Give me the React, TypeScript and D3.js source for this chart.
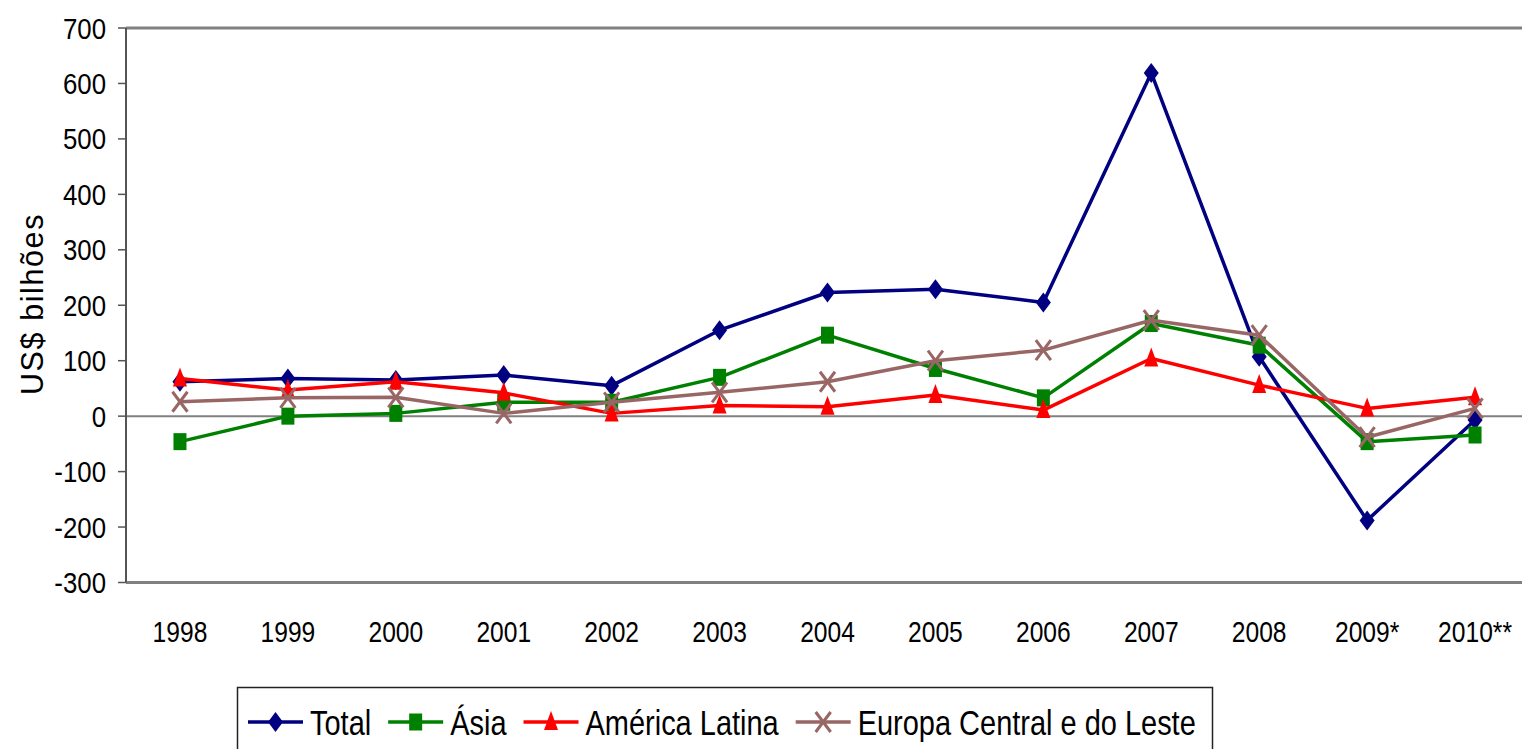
import React, { useEffect, useRef } from "react";
import * as d3 from "d3";

const years = ["1998", "1999", "2000", "2001", "2002", "2003", "2004", "2005", "2006", "2007", "2008", "2009*", "2010**"];
const total = [62, 68, 65, 74, 55, 155, 223, 229, 205, 619, 107, -188, -7];
const asia = [-46, 0, 5, 25, 25, 70, 146, 86, 33, 167, 128, -46, -34];
const americaLatina = [68, 47, 62, 42, 5, 19, 17, 38, 11, 104, 56, 14, 34];
const europa = [26, 33, 34, 5, 25, 43, 62, 100, 119, 173, 146, -38, 14];
const yTicks = [700, 600, 500, 400, 300, 200, 100, 0, -100, -200, -300];

const series = [
  { name: "Total", values: total, color: "#000080", marker: "diamond" },
  { name: "Ásia", values: asia, color: "#008000", marker: "square" },
  { name: "América Latina", values: americaLatina, color: "#FF0000", marker: "triangle" },
  { name: "Europa Central e do Leste", values: europa, color: "#996666", marker: "cross" },
];

const W = 1522, H = 749;
const FONT = "'Liberation Sans', Arial, sans-serif";

// markers in the source are a bit taller than wide
function drawMarker(g: any, kind: string, color: string, x: number, y: number) {
  if (kind === "diamond") {
    g.append("path").attr("d", `M${x},${y - 10}L${x + 7.5},${y}L${x},${y + 10}L${x - 7.5},${y}Z`).attr("fill", color);
  } else if (kind === "square") {
    g.append("rect").attr("x", x - 6.5).attr("y", y - 8.5).attr("width", 13).attr("height", 17).attr("fill", color);
  } else if (kind === "triangle") {
    g.append("path").attr("d", `M${x},${y - 11}L${x + 7},${y + 8}L${x - 7},${y + 8}Z`).attr("fill", color);
  } else {
    g.append("path").attr("d", `M${x - 7.5},${y - 10}L${x + 7.5},${y + 10}M${x - 7.5},${y + 10}L${x + 7.5},${y - 10}`)
      .attr("stroke", color).attr("stroke-width", 3).attr("fill", "none");
  }
}

const App = () => {
  const ref = useRef<SVGSVGElement>(null);

  useEffect(() => {
    const svg = d3.select(ref.current);
    svg.selectAll("*").remove();

    const left = 126, right = 1529, top = 28, bottom = 582.5;
    const x = d3.scalePoint().domain(years).range([left, right]).padding(0.5);
    const y = d3.scaleLinear().domain([-300, 700]).range([bottom, top]);

    // frame
    svg.append("line").attr("x1", left).attr("x2", W).attr("y1", top).attr("y2", top)
      .attr("stroke", "#808080").attr("stroke-width", 3);
    svg.append("line").attr("x1", left).attr("x2", W).attr("y1", bottom).attr("y2", bottom)
      .attr("stroke", "#808080").attr("stroke-width", 3);
    svg.append("line").attr("x1", left).attr("x2", W).attr("y1", y(0)).attr("y2", y(0))
      .attr("stroke", "#808080").attr("stroke-width", 2);
    svg.append("line").attr("x1", left).attr("x2", left).attr("y1", top).attr("y2", bottom)
      .attr("stroke", "#555").attr("stroke-width", 2);

    // y ticks
    const yt = svg.append("g");
    yTicks.forEach(t => {
      yt.append("line").attr("x1", 118).attr("x2", left).attr("y1", y(t)).attr("y2", y(t))
        .attr("stroke", "#555").attr("stroke-width", 1.5);
      yt.append("text").attr("transform", `translate(106,${y(t) + 10.5}) scale(0.89,1)`)
        .attr("text-anchor", "end").attr("font-family", FONT).attr("font-size", 29).text(t);
    });

    // x labels
    years.forEach(c => {
      svg.append("text").attr("transform", `translate(${x(c)},${642}) scale(0.82,1)`)
        .attr("text-anchor", "middle").attr("font-family", FONT).attr("font-size", 30).text(c);
    });

    // y axis title
    svg.append("text").attr("transform", `translate(43,304) rotate(-90)`)
      .attr("text-anchor", "middle").attr("font-family", FONT).attr("font-size", 30.5)
      .attr("letter-spacing", 1.6).text("US$ bilhões");

    // series
    const line = d3.line<number>().x((_, i) => x(years[i]) as number).y(d => y(d));
    series.forEach(s => {
      const g = svg.append("g");
      g.append("path").attr("d", line(s.values)).attr("fill", "none")
        .attr("stroke", s.color).attr("stroke-width", 3.5).attr("stroke-linejoin", "round");
      s.values.forEach((v, i) => drawMarker(g, s.marker, s.color, x(years[i]) as number, y(v)));
    });

    // legend
    const lg = svg.append("g");
    lg.append("rect").attr("x", 237.5).attr("y", 687.5).attr("width", 975).attr("height", 80)
      .attr("fill", "white").attr("stroke", "#222").attr("stroke-width", 1.5);
    let cx = 248;
    const ly = 722;
    series.forEach(s => {
      lg.append("line").attr("x1", cx).attr("x2", cx + 55).attr("y1", ly).attr("y2", ly)
        .attr("stroke", s.color).attr("stroke-width", 3.5);
      drawMarker(lg, s.marker, s.color, cx + 27.5, ly);
      const t = lg.append("text").attr("transform", `translate(${cx + 62},735) scale(0.805,1)`)
        .attr("font-family", FONT).attr("font-size", 36).text(s.name);
      const w = (t.node() as SVGTextElement).getComputedTextLength() * 0.805;
      cx += 62 + w + 17;
    });
  }, []);

  return (
    <svg ref={ref} width={W} height={H}
      style={{ position: "absolute", left: 0, top: 0, background: "white" }} />
  );
};

export default App;
